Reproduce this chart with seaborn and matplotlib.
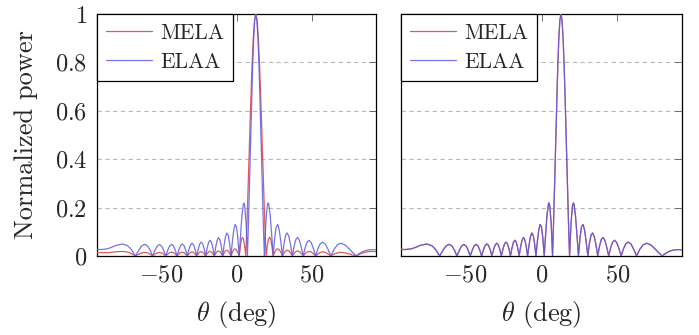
import matplotlib
matplotlib.use("Agg")
import matplotlib.pyplot as plt
import seaborn as sns
import pandas as pd
from matplotlib.ticker import FixedLocator, FixedFormatter
from matplotlib.lines import Line2D

# ---------------- data ----------------
elaa_theta = [-92.5, -90.0, -85.6, -82.9, -79.9, -75.6, -72.3, -70.9, -69.5, -67.06,
              -64.8, -62.8, -60.8, -59.0, -57.3, -55.66,
              -54.08, -52.56, -51.09, -49.66, -48.28, -46.93,
              -45.61, -44.33, -43.07, -41.83, -40.63, -39.44,
              -38.27, -37.13, -36.00, -34.88, -33.78, -32.69,
              -31.61, -30.55, -29.50, -28.46, -27.44, -26.42,
              -25.42, -24.42, -23.43, -22.44, -21.45, -20.47,
              -19.51, -18.56, -17.60, -16.65, -15.69, -14.74,
              -13.81, -12.88, -11.95, -11.03, -10.10, -9.17,
              -8.25, -7.34, -6.42, -5.50, -4.59, -3.67,
              -2.76, -1.86, -0.95, -0.04, 0.87, 1.78,
              2.69, 3.60, 4.52, 4.90, 5.43, 6.35, 7.26,
              7.94, 8.63, 9.32, 10.01, 10.71, 11.40, 12.10, 12.80,
              13.50, 14.20, 14.90, 15.61, 16.32, 17.03, 17.75, 18.46,
              19.43, 20.39, 20.95, 21.37, 22.35, 23.33, 24.32,
              25.33, 26.33, 27.35, 28.38, 29.42, 30.47,
              31.53, 32.60, 33.69, 34.79, 35.90, 37.03,
              38.19, 39.35, 40.53, 41.74, 42.97, 44.23,
              45.51, 46.82, 48.17, 49.55, 50.97, 52.44,
              53.96, 55.53, 57.18, 58.90, 60.69, 62.61,
              64.66, 66.89, 69.31, 72.08, 75.30, 76.80, 79.45,
              81.1, 83.0, 84.56, 87.4, 90.0, 92.5]
elaa_power = [0.0278, 0.0265, 0.0297, 0.0357, 0.0436, 0.0498, 0.0428, 0.0348, 0.0246, 0.0,
              0.0243, 0.0420, 0.0482, 0.0415, 0.0239, 0.0,
              0.0238, 0.0413, 0.0476, 0.0413, 0.0239, 0.0,
              0.0240, 0.0416, 0.0482, 0.0419, 0.0243, 0.0,
              0.0247, 0.0430, 0.0499, 0.0436, 0.0254, 0.0,
              0.0259, 0.0452, 0.0529, 0.0464, 0.0271, 0.0,
              0.0279, 0.0491, 0.0576, 0.0508, 0.0299, 0.0,
              0.0311, 0.0550, 0.0650, 0.0577, 0.0341, 0.0,
              0.0360, 0.0642, 0.0764, 0.0683, 0.0408, 0.0,
              0.0439, 0.0791, 0.0953, 0.0863, 0.0520, 0.0,
              0.0579, 0.1062, 0.1304, 0.1206, 0.0748, 0.0,
              0.088, 0.167, 0.214, 0.219, 0.208, 0.137, 0.0,
              0.1397, 0.3009, 0.4714, 0.6374, 0.785, 0.9007, 0.975, 1.0,
              0.975, 0.9007, 0.785, 0.6374, 0.4714, 0.3009, 0.1397, 0.0,
              0.137, 0.208, 0.219, 0.214, 0.167, 0.088, 0.0,
              0.0748, 0.1206, 0.1304, 0.1062, 0.0579, 0.0,
              0.0520, 0.0863, 0.0953, 0.0791, 0.0439, 0.0,
              0.0408, 0.0683, 0.0764, 0.0642, 0.0360, 0.0,
              0.0341, 0.0577, 0.0650, 0.0550, 0.0311, 0.0,
              0.0299, 0.0508, 0.0576, 0.0491, 0.0279, 0.0,
              0.0271, 0.0464, 0.0529, 0.0452, 0.0259, 0.0159, 0.0,
              0.0080, 0.0157, 0.0202, 0.0253, 0.0265, 0.0253]

mela_theta = [-92.5, -90.0, -85.6, -82.9, -79.9, -75.6, -72.3, -70.9, -69.5, -67.06,
              -64.8, -62.8, -60.8, -59.0, -57.3, -55.66,
              -54.08, -52.56, -51.09, -49.66, -48.28, -46.93,
              -45.61, -44.33, -43.07, -41.83, -40.63, -39.44,
              -38.27, -37.13, -36.00, -34.88, -33.78, -32.69,
              -31.61, -30.55, -29.50, -28.46, -27.44, -26.42,
              -25.42, -24.42, -23.43, -22.44, -21.45, -20.47,
              -19.51, -18.56, -17.60, -16.65, -15.69, -14.74,
              -13.81, -12.88, -11.95, -11.03, -10.10, -9.17,
              -8.25, -7.34, -6.42, -5.50, -4.59, -3.67,
              -2.76, -1.86, -0.95, -0.04, 0.87, 1.78,
              2.5, 3.2, 3.9, 4.6, 5.4, 6.15,
              6.97, 7.80, 8.62, 9.45, 10.29, 11.12, 11.96, 12.80,
              13.64, 14.48, 15.32, 16.17, 17.02, 17.88, 18.74, 19.59,
              20.4, 21.2, 22.0, 22.8, 23.6, 24.32,
              25.33, 26.33, 27.35, 28.38, 29.42, 30.47,
              31.53, 32.60, 33.69, 34.79, 35.90, 37.03,
              38.19, 39.35, 40.53, 41.74, 42.97, 44.23,
              45.51, 46.82, 48.17, 49.55, 50.97, 52.44,
              53.96, 55.53, 57.18, 58.90, 60.69, 62.61,
              64.66, 66.89, 69.31, 72.08, 75.30, 76.80, 79.45,
              81.1, 83.0, 84.56, 87.4, 90.0, 92.5]
mela_power = [0.014, 0.014, 0.0135, 0.015, 0.0175, 0.019, 0.0165, 0.0135, 0.0095, 0.0,
              0.0075, 0.013, 0.015, 0.013, 0.0075, 0.0,
              0.0075, 0.013, 0.015, 0.013, 0.0075, 0.0,
              0.008, 0.0139, 0.016, 0.0139, 0.008, 0.0,
              0.008, 0.0139, 0.016, 0.0139, 0.008, 0.0,
              0.0085, 0.0147, 0.017, 0.0147, 0.0085, 0.0,
              0.009, 0.0156, 0.018, 0.0156, 0.009, 0.0,
              0.0095, 0.0165, 0.019, 0.0165, 0.0095, 0.0,
              0.0105, 0.0182, 0.021, 0.0182, 0.0105, 0.0,
              0.012, 0.0208, 0.024, 0.0208, 0.012, 0.0,
              0.015, 0.026, 0.030, 0.026, 0.015, 0.0,
              0.037, 0.065, 0.077, 0.070, 0.040, 0.0,
              0.1397, 0.3009, 0.4714, 0.6374, 0.785, 0.9007, 0.975, 1.0,
              0.975, 0.9007, 0.785, 0.6374, 0.4714, 0.3009, 0.1397, 0.0,
              0.040, 0.070, 0.078, 0.066, 0.036, 0.0,
              0.015, 0.026, 0.030, 0.026, 0.015, 0.0,
              0.012, 0.0208, 0.024, 0.0208, 0.012, 0.0,
              0.0105, 0.0182, 0.021, 0.0182, 0.0105, 0.0,
              0.0095, 0.0165, 0.019, 0.0165, 0.0095, 0.0,
              0.0085, 0.0147, 0.017, 0.0147, 0.0085, 0.0,
              0.0077, 0.013, 0.015, 0.0128, 0.0073, 0.0045, 0.0,
              0.006, 0.011, 0.0145, 0.018, 0.019, 0.018]

# right panel: both curves coincide
mela_right_theta = list(elaa_theta)
mela_right_power = list(elaa_power)

series_labels = ["MELA", "ELAA"]
x_ticks = [-50, 0, 50]
x_tick_labels = ["$-50$", "$0$", "$50$"]
y_ticks = [0, 0.2, 0.4, 0.6, 0.8, 1]
y_tick_labels = ["$0$", "$0.2$", "$0.4$", "$0.6$", "$0.8$", "$1$"]

# ---------------- style ----------------
sns.set_theme(style="white")
plt.rcParams.update({
    "font.family": ["cmr10", "DejaVu Serif"],
    "mathtext.fontset": "cm",
    "axes.formatter.use_mathtext": True,
    "axes.unicode_minus": False,
})

RED = "#e05a5a"
BLUE = "#5b5be0"
FS_TICK = 17.5
FS_LABEL = 19
FS_LEG = 15.5

fig = plt.figure(figsize=(6.99, 3.35), dpi=100)
ax1 = fig.add_axes([0.1388, 0.2358, 0.3991, 0.7224])
ax2 = fig.add_axes([0.5737, 0.2358, 0.402, 0.7224])

panels = [
    (ax1, (mela_theta, mela_power), (elaa_theta, elaa_power)),
    (ax2, (mela_right_theta, mela_right_power), (elaa_theta, elaa_power)),
]

for ax, (mt, mp), (et, ep) in panels:
    dm = pd.DataFrame({"theta": mt, "power": mp})
    de = pd.DataFrame({"theta": et, "power": ep})
    sns.lineplot(data=dm, x="theta", y="power", ax=ax, color=RED, lw=0.9,
                 sort=False, zorder=3, legend=False)
    sns.lineplot(data=de, x="theta", y="power", ax=ax, color=BLUE, lw=0.9,
                 alpha=0.85, sort=False, zorder=4, legend=False)
    ax.set_xlim(-92.5, 92.5)
    ax.set_ylim(0, 1)
    ax.xaxis.set_major_locator(FixedLocator(x_ticks))
    ax.xaxis.set_major_formatter(FixedFormatter(x_tick_labels))
    ax.yaxis.set_major_locator(FixedLocator(y_ticks))
    ax.yaxis.set_major_formatter(FixedFormatter(y_tick_labels))
    ax.tick_params(direction="in", top=True, right=True, length=5, width=0.6,
                   color="0.35", labelsize=FS_TICK)
    ax.tick_params(axis="x", pad=6)
    ax.tick_params(axis="y", pad=7)
    ax.yaxis.grid(True, linestyle=(0, (4, 3)), color="0.72", lw=0.8)
    ax.xaxis.grid(False)
    ax.set_axisbelow(True)
    for s in ax.spines.values():
        s.set_color("black")
        s.set_linewidth(0.9)
    ax.set_xlabel(r"$\theta$ (deg)", fontsize=FS_LABEL, labelpad=9)
    ax.set_ylabel("")
    handles = [Line2D([], [], color=RED, lw=0.9),
               Line2D([], [], color=BLUE, lw=0.9, alpha=0.85)]
    leg = ax.legend(handles, series_labels, loc="upper left", borderaxespad=0,
                    frameon=True, fancybox=False, framealpha=1, edgecolor="black",
                    fontsize=FS_LEG, handlelength=2.15, handletextpad=0.35,
                    borderpad=0.42, labelspacing=0.45)
    leg.get_frame().set_linewidth(0.9)

ax1.set_ylabel("Normalized power", fontsize=FS_LABEL, labelpad=12)
ax2.tick_params(labelleft=False)

fig.savefig("out.png", dpi=100)
